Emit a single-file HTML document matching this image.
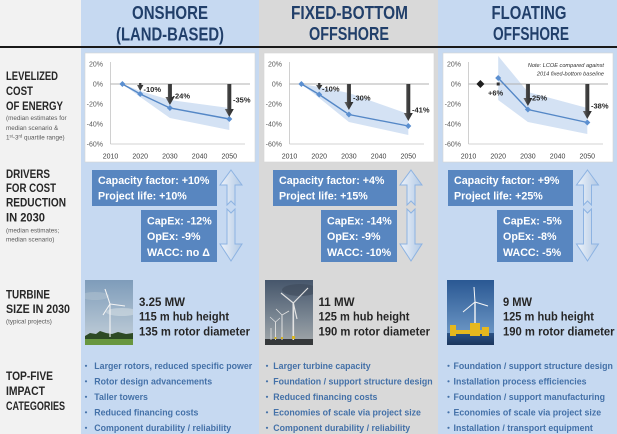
<!DOCTYPE html>
<html><head><meta charset="utf-8"><style>
html,body{margin:0;padding:0;background:#f2f2f2;}
svg{display:block;font-family:"Liberation Sans",Arial,sans-serif;}
</style></head><body>
<svg width="617" height="434" viewBox="0 0 617 434" xmlns="http://www.w3.org/2000/svg">
<defs>
 <linearGradient id="arr" x1="0" x2="1" y1="0" y2="0"><stop offset="0" stop-color="#eef3fa"/><stop offset="1" stop-color="#b2c9e5"/></linearGradient>
 <linearGradient id="dk" x1="0" x2="1" y1="0" y2="0"><stop offset="0" stop-color="#707070"/><stop offset="0.45" stop-color="#3e3e3e"/><stop offset="1" stop-color="#2a2a2a"/></linearGradient>
 <linearGradient id="sky1" x1="0" x2="0" y1="0" y2="1"><stop offset="0" stop-color="#7e9cba"/><stop offset="1" stop-color="#c5d1da"/></linearGradient>
 <linearGradient id="sky2" x1="0" x2="0" y1="0" y2="1"><stop offset="0" stop-color="#46566b"/><stop offset="0.6" stop-color="#7c8894"/><stop offset="1" stop-color="#a3a8aa"/></linearGradient>
 <linearGradient id="sky3" x1="0" x2="0" y1="0" y2="1"><stop offset="0" stop-color="#2a5893"/><stop offset="1" stop-color="#79a3cf"/></linearGradient>
 <linearGradient id="sea3" x1="0" x2="0" y1="0" y2="1"><stop offset="0" stop-color="#2b5285"/><stop offset="1" stop-color="#1b365d"/></linearGradient>
 <clipPath id="c1"><rect x="85" y="280" width="48" height="65"/></clipPath>
 <clipPath id="c2"><rect x="265" y="280" width="48" height="65"/></clipPath>
 <clipPath id="c3"><rect x="447" y="280" width="47" height="65"/></clipPath>
</defs>

<!-- backgrounds -->
<rect x="0" y="0" width="617" height="434" fill="#f2f2f2"/>
<rect x="81" y="0" width="178" height="434" fill="#c6d9f1"/>
<rect x="259" y="0" width="179" height="434" fill="#d9d9d9"/>
<rect x="438" y="0" width="179" height="434" fill="#c6d9f1"/>
<rect x="0" y="46" width="617" height="2" fill="#1a1a1a"/>

<!-- headers -->
<g font-weight="bold" font-size="18" fill="#213f6a" text-anchor="middle">
 <text x="170" y="19" textLength="76" lengthAdjust="spacingAndGlyphs">ONSHORE</text>
 <text x="170" y="40.5" textLength="108" lengthAdjust="spacingAndGlyphs">(LAND-BASED)</text>
 <text x="349.5" y="19" textLength="117" lengthAdjust="spacingAndGlyphs">FIXED-BOTTOM</text>
 <text x="349" y="40" textLength="80" lengthAdjust="spacingAndGlyphs">OFFSHORE</text>
 <text x="529" y="19" textLength="75" lengthAdjust="spacingAndGlyphs">FLOATING</text>
 <text x="531" y="40" textLength="76" lengthAdjust="spacingAndGlyphs">OFFSHORE</text>
</g>

<!-- left labels -->
<g font-weight="bold" font-size="11.5" fill="#262626">
 <text x="6" y="80" textLength="52" lengthAdjust="spacingAndGlyphs">LEVELIZED</text>
 <text x="6" y="95" textLength="27" lengthAdjust="spacingAndGlyphs">COST</text>
 <text x="6" y="110" textLength="57" lengthAdjust="spacingAndGlyphs">OF ENERGY</text>
 <text x="6" y="178" textLength="44" lengthAdjust="spacingAndGlyphs">DRIVERS</text>
 <text x="6" y="192" textLength="50" lengthAdjust="spacingAndGlyphs">FOR COST</text>
 <text x="6" y="206.5" textLength="60" lengthAdjust="spacingAndGlyphs">REDUCTION</text>
 <text x="6" y="221.5" textLength="39" lengthAdjust="spacingAndGlyphs">IN 2030</text>
 <text x="6" y="298.5" textLength="44" lengthAdjust="spacingAndGlyphs">TURBINE</text>
 <text x="6" y="313" textLength="64" lengthAdjust="spacingAndGlyphs">SIZE IN 2030</text>
 <text x="6" y="380" textLength="47" lengthAdjust="spacingAndGlyphs">TOP-FIVE</text>
 <text x="6" y="395" textLength="39" lengthAdjust="spacingAndGlyphs">IMPACT</text>
 <text x="6" y="410" textLength="59" lengthAdjust="spacingAndGlyphs">CATEGORIES</text>
</g>
<g font-size="6.3" fill="#595959">
 <text x="6" y="120">(median estimates for</text>
 <text x="6" y="130">median scenario &amp;</text>
 <text x="6" y="139.5">1<tspan font-size="4.3" dy="-2">st</tspan><tspan dy="2">-3</tspan><tspan font-size="4.3" dy="-2">rd</tspan><tspan dy="2"> quartile range)</tspan></text>
 <text x="6" y="232.5">(median estimates;</text>
 <text x="6" y="241.5">median scenario)</text>
 <text x="6" y="323.5">(typical projects)</text>
</g>

<!-- ============ CHARTS ============ -->
<g>
 <rect x="85" y="53" width="170" height="109" fill="#fff" stroke="#d4d4d4" stroke-width="0.6"/>
 <rect x="264" y="53" width="170" height="109" fill="#fff" stroke="#d4d4d4" stroke-width="0.6"/>
 <rect x="443" y="53" width="170" height="109" fill="#fff" stroke="#d4d4d4" stroke-width="0.6"/>
</g>

<!-- bands -->
<polygon points="122.4,84 140.2,91 169.9,100 229.3,108 229.3,130 169.9,118 140.2,97" fill="#d4e2f4"/>
<polygon points="301.4,84 319.2,87 348.9,93 408.3,114 408.3,135 348.9,122 319.2,98" fill="#d4e2f4"/>
<polygon points="498.2,56 527.9,92 587.3,108 587.3,134 527.9,122 498.2,100" fill="#d4e2f4"/>

<!-- axes -->
<g stroke="#c4c4c4" stroke-width="0.8" fill="none">
 <line x1="110.5" y1="62" x2="110.5" y2="144"/><line x1="110.5" y1="144" x2="245" y2="144"/>
 <line x1="289.5" y1="62" x2="289.5" y2="144"/><line x1="289.5" y1="144" x2="424" y2="144"/>
 <line x1="468.5" y1="62" x2="468.5" y2="144"/><line x1="468.5" y1="144" x2="603" y2="144"/>
</g>
<g stroke="#b0b0b0" stroke-width="0.9">
 <line x1="110.5" y1="84" x2="250" y2="84"/>
 <line x1="289.5" y1="84" x2="429" y2="84"/>
 <line x1="468.5" y1="84" x2="608" y2="84"/>
</g>

<!-- y labels -->
<g font-size="7" fill="#595959" text-anchor="end">
 <text x="103" y="66.5">20%</text><text x="103" y="86.5">0%</text><text x="103" y="106.5">-20%</text><text x="103" y="126.5">-40%</text><text x="103" y="146.5">-60%</text>
 <text x="282" y="66.5">20%</text><text x="282" y="86.5">0%</text><text x="282" y="106.5">-20%</text><text x="282" y="126.5">-40%</text><text x="282" y="146.5">-60%</text>
 <text x="461" y="66.5">20%</text><text x="461" y="86.5">0%</text><text x="461" y="106.5">-20%</text><text x="461" y="126.5">-40%</text><text x="461" y="146.5">-60%</text>
</g>
<!-- x labels -->
<g font-size="7" fill="#404040" text-anchor="middle">
 <text x="110.5" y="158.5">2010</text><text x="140.2" y="158.5">2020</text><text x="169.9" y="158.5">2030</text><text x="199.6" y="158.5">2040</text><text x="229.3" y="158.5">2050</text>
 <text x="289.5" y="158.5">2010</text><text x="319.2" y="158.5">2020</text><text x="348.9" y="158.5">2030</text><text x="378.6" y="158.5">2040</text><text x="408.3" y="158.5">2050</text>
 <text x="468.5" y="158.5">2010</text><text x="498.2" y="158.5">2020</text><text x="527.9" y="158.5">2030</text><text x="557.6" y="158.5">2040</text><text x="587.3" y="158.5">2050</text>
</g>

<!-- lines -->
<g fill="none" stroke="#5487c6" stroke-width="1.4">
 <polyline points="122.4,84 140.2,94 169.9,108 229.3,119"/>
 <polyline points="301.4,84 319.2,94.5 348.9,114.5 408.3,126"/>
 <polyline points="498.2,78 527.9,109.5 587.3,122.5"/>
</g>
<g fill="#5b8fd0">
 <path d="M122.4,81 l3,3 l-3,3 l-3,-3z"/><path d="M140.2,91 l3,3 l-3,3 l-3,-3z"/><path d="M169.9,105 l3,3 l-3,3 l-3,-3z"/><path d="M229.3,116 l3,3 l-3,3 l-3,-3z"/>
 <path d="M301.4,81 l3,3 l-3,3 l-3,-3z"/><path d="M319.2,91.5 l3,3 l-3,3 l-3,-3z"/><path d="M348.9,111.5 l3,3 l-3,3 l-3,-3z"/><path d="M408.3,123 l3,3 l-3,3 l-3,-3z"/>
 <path d="M498.2,75 l3,3 l-3,3 l-3,-3z"/><path d="M527.9,106.5 l3,3 l-3,3 l-3,-3z"/><path d="M587.3,119.5 l3,3 l-3,3 l-3,-3z"/>
</g>
<path d="M480.4,80 l4,4 l-4,4 l-4,-4z" fill="#1e1e1e"/>
<rect x="496.7" y="82.5" width="3" height="3" fill="#333"/>

<!-- dark arrows -->
<g fill="url(#dk)">
 <path d="M139,83 L141.4,83 L141.4,85 L143.4,85 L140.2,91 L137,85 L139,85 Z"/>
 <path d="M167.9,84 L171.9,84 L171.9,97 L174.4,97 L169.9,105 L165.4,97 L167.9,97 Z"/>
 <path d="M227.3,84 L231.3,84 L231.3,109 L233.8,109 L229.3,117 L224.8,109 L227.3,109 Z"/>
 <path d="M318,83 L320.4,83 L320.4,85 L322.4,85 L319.2,90 L316,85 L318,85 Z"/>
 <path d="M346.9,84 L350.9,84 L350.9,102 L353.4,102 L348.9,110 L344.4,102 L346.9,102 Z"/>
 <path d="M406.3,84 L410.3,84 L410.3,113 L412.8,113 L408.3,121 L403.8,113 L406.3,113 Z"/>
 <path d="M525.9,84 L529.9,84 L529.9,98 L532.4,98 L527.9,106 L523.4,98 L525.9,98 Z"/>
 <path d="M585.3,84 L589.3,84 L589.3,111 L591.8,111 L587.3,119 L582.8,111 L585.3,111 Z"/>
</g>
<g font-size="7.5" font-weight="bold" fill="#262626">
 <text x="143.5" y="92">-10%</text><text x="172.5" y="98.5">-24%</text><text x="233" y="102.5">-35%</text>
 <text x="322" y="91.5">-10%</text><text x="353" y="100.5">-30%</text><text x="412" y="112.5">-41%</text>
 <text x="488" y="95.5">+6%</text><text x="529.5" y="100.5">-25%</text><text x="591" y="108.5">-38%</text>
</g>
<g font-size="5.6" font-style="italic" fill="#333" text-anchor="end">
 <text x="604" y="67">Note: LCOE compared against</text>
 <text x="604" y="75.5">2014 fixed-bottom baseline</text>
</g>

<!-- ============ DRIVERS ============ -->
<g fill="#5886c0">
 <rect x="92" y="170" width="125" height="36"/><rect x="141" y="210" width="76" height="52"/>
 <rect x="273" y="170" width="124" height="36"/><rect x="321" y="210" width="76" height="52"/>
 <rect x="448" y="170" width="125" height="36"/><rect x="497" y="210" width="76" height="52"/>
</g>
<g font-size="10.7" font-weight="bold" fill="#ffffff">
 <text x="98" y="184">Capacity factor: +10%</text>
 <text x="98" y="199.3">Project life: +10%</text>
 <text x="147" y="224.3">CapEx: -12%</text>
 <text x="147" y="240">OpEx: -9%</text>
 <text x="147" y="256">WACC: no Δ</text>
 <text x="279" y="184">Capacity factor: +4%</text>
 <text x="279" y="199.3">Project life: +15%</text>
 <text x="327" y="224.3">CapEx: -14%</text>
 <text x="327" y="240">OpEx: -9%</text>
 <text x="327" y="256">WACC: -10%</text>
 <text x="454" y="184">Capacity factor: +9%</text>
 <text x="454" y="199.3">Project life: +25%</text>
 <text x="503" y="224.3">CapEx: -5%</text>
 <text x="503" y="240">OpEx: -8%</text>
 <text x="503" y="256">WACC: -5%</text>
</g>
<g fill="url(#arr)" stroke="#8db3e2" stroke-width="1">
 <path d="M231,170 L242,185 L235,185 L235,205 L231,201 L227,205 L227,185 L220,185 Z"/>
 <path d="M227,209 L231,213 L235,209 L235,244 L242,244 L231,261 L220,244 L227,244 Z"/>
 <path d="M411,170 L422,185 L415,185 L415,205 L411,201 L407,205 L407,185 L400,185 Z"/>
 <path d="M407,209 L411,213 L415,209 L415,244 L422,244 L411,261 L400,244 L407,244 Z"/>
 <path d="M587.5,170 L598.5,185 L591.5,185 L591.5,205 L587.5,201 L583.5,205 L583.5,185 L576.5,185 Z"/>
 <path d="M583.5,209 L587.5,213 L591.5,209 L591.5,244 L598.5,244 L587.5,261 L576.5,244 L583.5,244 Z"/>
</g>

<!-- ============ PHOTOS ============ -->
<g clip-path="url(#c1)">
 <rect x="85" y="280" width="48" height="65" fill="url(#sky1)"/>
 <ellipse cx="95" cy="296" rx="14" ry="4" fill="#aebfcf" opacity="0.6"/>
 <ellipse cx="122" cy="312" rx="16" ry="4" fill="#d2dce3" opacity="0.6"/>
 <path d="M85,336 L90,333 L96,334 L100,331 L106,333 L112,334 L118,332 L126,334 L133,333 L133,340 L85,340 Z" fill="#2d4a24"/>
 <rect x="85" y="339" width="48" height="6" fill="#68963f"/>
 <g stroke="#f4f4f4" stroke-width="1.1" fill="none">
  <line x1="110" y1="304" x2="110" y2="337"/>
  <line x1="110" y1="304" x2="105" y2="289"/>
  <line x1="110" y1="304" x2="125" y2="306"/>
  <line x1="110" y1="304" x2="103" y2="315"/>
 </g>
</g>
<g clip-path="url(#c2)">
 <rect x="265" y="280" width="48" height="65" fill="url(#sky2)"/>
 <ellipse cx="300" cy="290" rx="18" ry="6" fill="#3d4a5a" opacity="0.6"/>
 <rect x="265" y="339" width="48" height="6" fill="#35383a"/>
 <g stroke="#e2e2e2" fill="none">
  <line x1="293.3" y1="303" x2="293.3" y2="340" stroke-width="1.6"/>
  <line x1="293.3" y1="303" x2="281" y2="293" stroke-width="1.2"/>
  <line x1="293.3" y1="303" x2="308" y2="288" stroke-width="1.2"/>
  <line x1="293.3" y1="303" x2="297" y2="319" stroke-width="1.2"/>
  <line x1="282" y1="315" x2="282" y2="340" stroke-width="1"/>
  <line x1="282" y1="315" x2="276" y2="309" stroke-width="0.8"/>
  <line x1="282" y1="315" x2="289" y2="311" stroke-width="0.8"/>
  <line x1="275.5" y1="322" x2="275.5" y2="340" stroke-width="0.9"/>
  <line x1="275.5" y1="322" x2="270" y2="317" stroke-width="0.7"/>
  <line x1="275.5" y1="322" x2="280" y2="318" stroke-width="0.7"/>
  <line x1="271" y1="328" x2="271" y2="340" stroke-width="0.8"/>
 </g>
 <g fill="#d8b520"><rect x="292" y="336" width="3" height="3"/><rect x="281" y="337" width="2" height="2"/><rect x="274.5" y="337" width="2" height="2"/></g>
</g>
<g clip-path="url(#c3)">
 <rect x="447" y="280" width="47" height="65" fill="url(#sky3)"/>
 <rect x="447" y="333" width="47" height="12" fill="url(#sea3)"/>
 <g stroke="#f6f6f6" fill="none">
  <line x1="475" y1="302" x2="475" y2="326" stroke-width="1.4"/>
  <line x1="475" y1="302" x2="474" y2="287" stroke-width="1"/>
  <line x1="475" y1="302" x2="463" y2="312" stroke-width="1"/>
  <line x1="475" y1="302" x2="488" y2="306" stroke-width="1"/>
 </g>
 <g fill="#e6b81e">
  <rect x="450" y="325" width="6" height="11"/>
  <rect x="470" y="323" width="10" height="13"/>
  <rect x="482" y="327" width="7" height="9"/>
  <rect x="450" y="330" width="39" height="4"/>
 </g>
</g>

<!-- turbine text -->
<g font-size="12" font-weight="bold" fill="#262626">
 <text x="139" y="306" textLength="46" lengthAdjust="spacingAndGlyphs">3.25 MW</text>
 <text x="139" y="320.7" textLength="90" lengthAdjust="spacingAndGlyphs">115 m hub height</text>
 <text x="139" y="335.7" textLength="111" lengthAdjust="spacingAndGlyphs">135 m rotor diameter</text>
 <text x="318.5" y="306" textLength="36" lengthAdjust="spacingAndGlyphs">11 MW</text>
 <text x="318.5" y="320.7" textLength="91" lengthAdjust="spacingAndGlyphs">125 m hub height</text>
 <text x="318.5" y="335.7" textLength="111.5" lengthAdjust="spacingAndGlyphs">190 m rotor diameter</text>
 <text x="503" y="306" textLength="29" lengthAdjust="spacingAndGlyphs">9 MW</text>
 <text x="503" y="320.7" textLength="91" lengthAdjust="spacingAndGlyphs">125 m hub height</text>
 <text x="503" y="335.7" textLength="111.5" lengthAdjust="spacingAndGlyphs">190 m rotor diameter</text>
</g>

<!-- bullets -->
<g fill="#4471a8">
 <circle cx="86" cy="365.8" r="1.1"/><circle cx="86" cy="381.3" r="1.1"/><circle cx="86" cy="396.8" r="1.1"/><circle cx="86" cy="412.3" r="1.1"/><circle cx="86" cy="427.8" r="1.1"/>
 <circle cx="267" cy="365.8" r="1.1"/><circle cx="267" cy="381.3" r="1.1"/><circle cx="267" cy="396.8" r="1.1"/><circle cx="267" cy="412.3" r="1.1"/><circle cx="267" cy="427.8" r="1.1"/>
 <circle cx="448.5" cy="365.8" r="1.1"/><circle cx="448.5" cy="381.3" r="1.1"/><circle cx="448.5" cy="396.8" r="1.1"/><circle cx="448.5" cy="412.3" r="1.1"/><circle cx="448.5" cy="427.8" r="1.1"/>
</g>
<g font-size="8.8" font-weight="bold" fill="#4471a8">
 <text x="94.3" y="369">Larger rotors, reduced specific power</text>
 <text x="94.3" y="384.5">Rotor design advancements</text>
 <text x="94.3" y="400">Taller towers</text>
 <text x="94.3" y="415.5">Reduced financing costs</text>
 <text x="94.3" y="431">Component durability / reliability</text>
 <text x="273.3" y="369">Larger turbine capacity</text>
 <text x="273.3" y="384.5">Foundation / support structure design</text>
 <text x="273.3" y="400">Reduced financing costs</text>
 <text x="273.3" y="415.5">Economies of scale via project size</text>
 <text x="273.3" y="431">Component durability / reliability</text>
 <text x="453.5" y="369">Foundation / support structure design</text>
 <text x="453.5" y="384.5">Installation process efficiencies</text>
 <text x="453.5" y="400">Foundation / support manufacturing</text>
 <text x="453.5" y="415.5">Economies of scale via project size</text>
 <text x="453.5" y="431">Installation / transport equipment</text>
</g>
</svg>
</body></html>
